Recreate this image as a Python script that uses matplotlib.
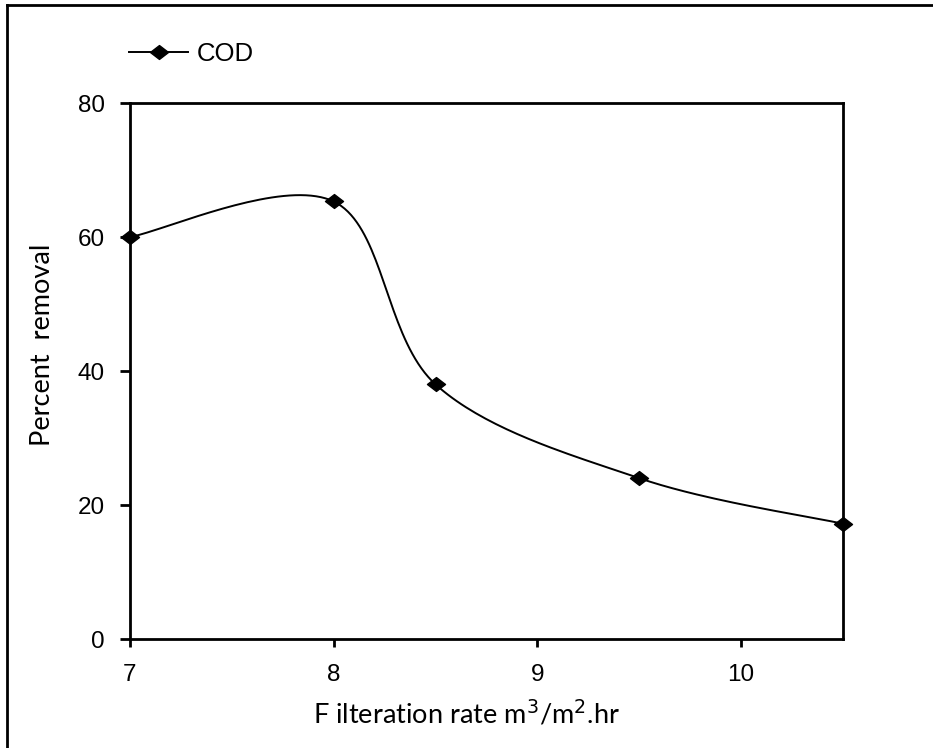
import numpy as np
import matplotlib.pyplot as plt
from matplotlib.lines import Line2D
from matplotlib.path import Path

# data
rate = [7, 8, 8.5, 9.5, 10.5]
cod = [60, 65.3, 38, 24, 17.2]

x_ticks = [7, 8, 9, 10]
y_ticks = [0, 20, 40, 60, 80]


# smoothed line like the spreadsheet one (catmull-rom bezier, done in pixel space)
def smooth(xs, ys, w, h, x0, x1, y0, y1, n=40):
    px = (np.array(xs) - x0) / (x1 - x0) * w
    py = (np.array(ys) - y0) / (y1 - y0) * h
    pts = np.column_stack([px, py])
    out = []
    for i in range(len(pts) - 1):
        p0 = pts[i - 1] if i > 0 else pts[i]
        p1 = pts[i]
        p2 = pts[i + 1]
        p3 = pts[i + 2] if i + 2 < len(pts) else pts[i + 1]
        c1 = p1 + (p2 - p0) / 6
        c2 = p2 - (p3 - p1) / 6
        t = np.linspace(0, 1, n)[:, None]
        b = (1 - t)**3 * p1 + 3 * (1 - t)**2 * t * c1 + 3 * (1 - t) * t**2 * c2 + t**3 * p2
        out.append(b)
    out = np.vstack(out)
    sx = out[:, 0] / w * (x1 - x0) + x0
    sy = out[:, 1] / h * (y1 - y0) + y0
    return sx, sy


# a slightly wide diamond, like the one in the picture
diamond = Path([(-1.3, 0), (0, 1), (1.3, 0), (0, -1), (-1.3, 0)],
               [Path.MOVETO, Path.LINETO, Path.LINETO, Path.LINETO, Path.CLOSEPOLY])

W, H = 933, 748
fig = plt.figure(figsize=(9.33, 7.48), dpi=100)

# frame round the picture: only top and left edges show
fig.add_artist(Line2D([7 / W, 1], [1 - 5 / H, 1 - 5 / H], color='black', linewidth=2,
                      transform=fig.transFigure))
fig.add_artist(Line2D([7 / W, 7 / W], [0, 1 - 5 / H], color='black', linewidth=2,
                      transform=fig.transFigure))

ax = fig.add_axes([130 / W, (H - 639) / H, 713 / W, 536 / H])

sx, sy = smooth(rate, cod, 713, 536, 7, 10.5, 0, 80)
ax.plot(sx, sy, color='black', linewidth=1.4)
ax.plot(rate, cod, linestyle='none', marker=diamond, color='black', markersize=13,
        clip_on=False, zorder=5)

ax.set_xlim(7, 10.5)
ax.set_ylim(0, 80)
ax.set_xticks(x_ticks)
ax.set_yticks(y_ticks)
ax.tick_params(direction='out', width=2, labelsize=17.5)
ax.tick_params(axis='x', length=6, pad=12)
ax.tick_params(axis='y', length=7, pad=11)
for lab in ax.get_xticklabels() + ax.get_yticklabels():
    lab.set_family('Liberation Sans')
for s in ax.spines.values():
    s.set_linewidth(2)

ax.set_xlabel('F ilteration rate m$^3$/m$^2$.hr', fontsize=19.5, family='Lato')
ax.xaxis.set_label_coords((466 - 130) / 713, -(714 - 639) / 536)
ax.xaxis.label.set_verticalalignment('center')
ax.set_ylabel('Percent  removal', fontsize=19.5, family='Lato')
ax.yaxis.set_label_coords(-(130 - 43) / 713, (639 - 345) / 536)
ax.yaxis.label.set_verticalalignment('center')

h = Line2D([], [], color='black', marker=diamond, markersize=13, linewidth=1.4)
fig.legend([h], ['COD'], loc='center left', bbox_to_anchor=(129 / W, 1 - 54 / H),
           frameon=False, prop={'family': 'Liberation Sans', 'size': 18.5},
           handlelength=2.3, handletextpad=0.35, borderpad=0, borderaxespad=0)

fig.savefig('out.png', dpi=100)
